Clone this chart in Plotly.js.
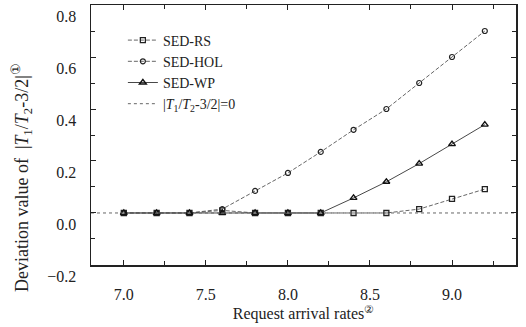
<!DOCTYPE html>
<html>
<head>
<meta charset="utf-8">
<script src="https://cdn.plot.ly/plotly-3.0.1.min.js"></script>
<style>html,body{margin:0;padding:0;background:#fff;}#chart{width:526px;height:327px;}</style>
</head>
<body>
<div id="chart"></div>
<script>
const rates = [7.0, 7.2, 7.4, 7.6, 7.8, 8.0, 8.2, 8.4, 8.6, 8.8, 9.0, 9.2];
const sedRS  = [0.0, 0.0, 0.0, 0.01, 0.0, 0.0, 0.0, 0.0, 0.0, 0.015, 0.054, 0.092];
const sedHOL = [0.0, 0.0, 0.0, 0.015, 0.085, 0.154, 0.235, 0.32, 0.40, 0.50, 0.60, 0.70];
const sedWP  = [0.0, 0.0, 0.0, 0.0, 0.0, 0.0, 0.0, 0.058, 0.12, 0.19, 0.265, 0.34];
const xRange = [6.8, 9.39];
const yRange = [-0.2001, 0.8001];
const refValue = 0;
const seriesNames = ['SED-RS', 'SED-HOL', 'SED-WP', '|<i>T</i><sub>1</sub>/<i>T</i><sub>2</sub>-3/2|=0'];
const xTitle = 'Request arrival rates<sup>②</sup>';
const yTitle = 'Deviation value of  |<i>T</i><sub>1</sub>/<i>T</i><sub>2</sub>-3/2|<sup>①</sup>';

const serif = 'Liberation Serif';
const traces = [
  {x: rates, y: sedRS, name: seriesNames[0], mode: 'lines+markers',
   line: {color: '#555', width: 0.9, dash: '4px,2px'},
   marker: {symbol: 'square-open', size: 5, color: '#222', line: {width: 1.3}}},
  {x: rates, y: sedHOL, name: seriesNames[1], mode: 'lines+markers',
   line: {color: '#555', width: 0.9, dash: '4px,2px'},
   marker: {symbol: 'circle-open', size: 5, color: '#222', line: {width: 1.2}}},
  {x: rates, y: sedWP, name: seriesNames[2], mode: 'lines+markers',
   line: {color: '#333', width: 0.9},
   marker: {symbol: 'triangle-up-open', size: 6, color: '#111', line: {width: 1.4}}},
  {x: xRange, y: [refValue, refValue], name: seriesNames[3], mode: 'lines',
   line: {color: '#666', width: 1, dash: 'dot'}}
];

const axisFont = {family: serif, size: 16, color: '#222'};
const layout = {
  width: 526, height: 327,
  margin: {l: 91, r: 10, t: 5, b: 62},
  font: {family: serif, color: '#222'},
  paper_bgcolor: '#fff', plot_bgcolor: '#fff',
  showlegend: true,
  legend: {x: 0.075, y: 0.925, xanchor: 'left', yanchor: 'top', bgcolor: 'rgba(0,0,0,0)',
           font: {family: serif, size: 14, color: '#222'},
           tracegroupgap: 0, itemwidth: 30},
  xaxis: {range: xRange, dtick: 0.5, tick0: 7.0, tickformat: '.1f',
          ticks: 'inside', ticklen: 5, tickcolor: '#222', showgrid: false, zeroline: false,
          showline: true, linecolor: '#222', linewidth: 1.5, mirror: 'ticks',
          minor: {dtick: 0.25, tick0: 7.0, ticks: 'inside', ticklen: 4, tickcolor: '#222', showgrid: false},
          tickfont: axisFont, ticklabelstandoff: 14,
          title: {text: xTitle, font: {family: serif, size: 16, color: '#222'}, standoff: 6}},
  yaxis: {range: yRange, dtick: 0.2, tick0: 0, tickformat: '.1f',
          ticks: 'inside', ticklen: 5, tickcolor: '#222', showgrid: false, zeroline: false,
          showline: true, linecolor: '#222', linewidth: 1.5, mirror: 'ticks',
          minor: {dtick: 0.1, ticks: 'inside', ticklen: 4, tickcolor: '#222', showgrid: false},
          tickfont: axisFont, ticklabelstandoff: 10, ticklabelshift: 11},
  annotations: [{text: yTitle, textangle: -90, xref: 'paper', yref: 'paper',
                 x: -0.162, y: 0.335, xanchor: 'center', yanchor: 'middle', showarrow: false,
                 font: {family: serif, size: 18, color: '#222'}}]
};

Plotly.newPlot('chart', traces, layout, {displayModeBar: false, staticPlot: true});
</script>
</body>
</html>
